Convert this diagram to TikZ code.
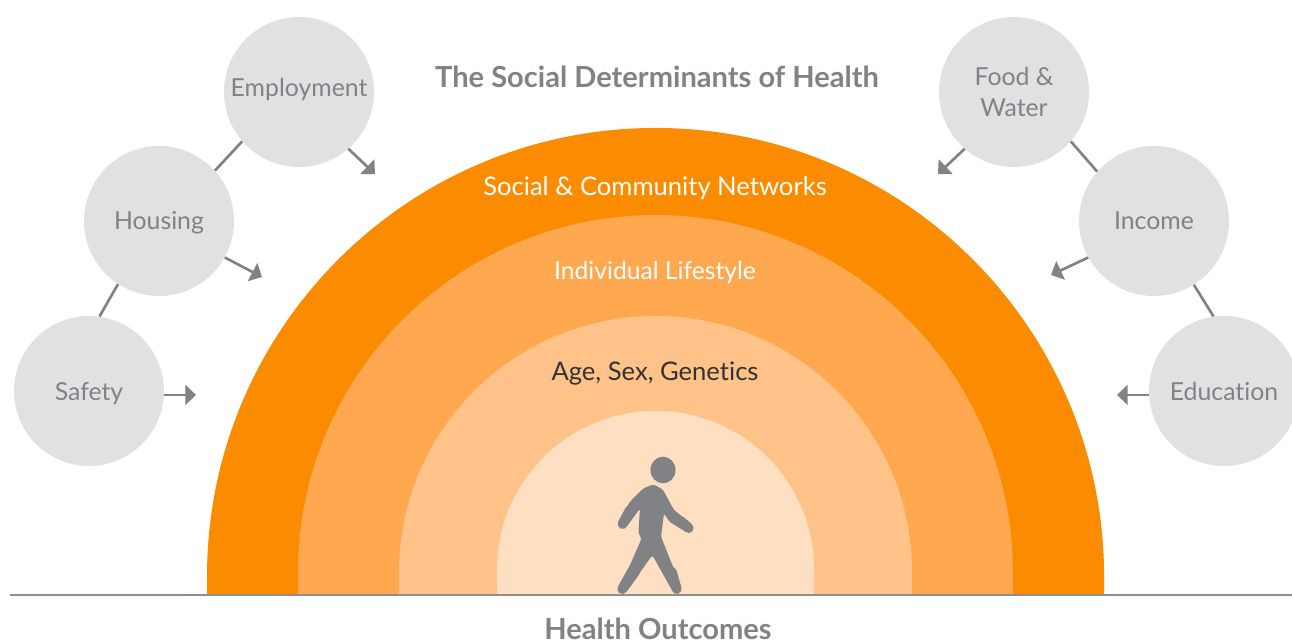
\documentclass[tikz,border=0pt]{standalone}
\usepackage{fontspec}
\setmainfont[Ligatures=NoCommon]{Lato}
\usetikzlibrary{arrows.meta}
\definecolor{ring1}{HTML}{FB8B00}
\definecolor{ring2}{HTML}{FFA850}
\definecolor{ring3}{HTML}{FFC288}
\definecolor{ring4}{HTML}{FFDFC2}
\definecolor{circlegray}{HTML}{E0E1E3}
\definecolor{textgray}{HTML}{808285}
\begin{document}
\begin{tikzpicture}[x=0.75pt,y=0.75pt]

\tikzstyle{factor}=[circle, fill=circlegray, text=textgray, minimum size=112.5pt, inner sep=0pt, align=center, font=\fontsize{18.6}{23.3}\selectfont]
\tikzstyle{oneline}=[text height=18pt, text depth=4.5pt]
\tikzstyle{link}=[draw=textgray, line width=2pt]
\tikzstyle{arrow}=[-{Triangle[length=8pt,width=15pt]},draw=textgray,line width=2pt]
\tikzstyle{ringlabel}=[font=\fontsize{19.2}{23}\selectfont]
\tikzstyle{heading}=[text=textgray, font=\fontsize{21.8}{26}\selectfont\bfseries]
\tikzstyle{limb}=[draw=textgray, line width=7.5pt, line cap=round]

\useasboundingbox (0,0) rectangle (1292,640);

\fill [ring1] (207,45) -- (207,63.5) arc [start angle=180, end angle=0, radius=336.4pt] -- (1104,45) -- cycle;
\fill [ring2] (298,45) -- (298,67.5) arc [start angle=180, end angle=0, radius=268.1pt] -- (1013,45) -- cycle;
\fill [ring3] (399,45) -- (399,67.5) arc [start angle=180, end angle=0, radius=192.4pt] -- (912,45) -- cycle;
\fill [ring4] (497,45) -- (497,70.5) arc [start angle=180, end angle=0, radius=118.9pt] -- (814,45) -- cycle;

\coordinate (groundL) at (10,45);
\coordinate (groundR) at (1292,45);
\draw [draw=textgray!90!white, line width=2.2pt] (groundL) -- (groundR);

\node (social) [ringlabel, text=white] at (655,452) {Social \& Community Networks};
\node (lifestyle) [ringlabel, text=white, font=\fontsize{18.5}{23}\selectfont] at (655,367) {Individual Lifestyle};
\node (age) [ringlabel, text=black!80] at (655,267) {Age, Sex, Genetics};

\node (title) [heading] at (657,563) {The Social Determinants of Health};
\node (outcomes) [heading] at (658,11) {Health Outcomes};

\node (employment) [factor, text height=12pt, text depth=4.5pt] at (299,548) {Employment};
\node (housing) [factor, oneline] at (159,419) {Housing};
\node (safety) [factor, oneline] at (89,249) {Safety};
\node (food) [factor] at (1014,548) {Food \&\\Water};
\node (income) [factor, oneline] at (1154,419) {Income};
\node (education) [factor, oneline] at (1224,249) {Education};

\draw [link] (safety.82) -- (housing.237);
\draw [link] (housing.42) -- (employment.221);
\draw [link] (food.-41) -- (income.139);
\draw [link] (income.-58) -- (education.98);

\coordinate (tipE) at (375,466);
\coordinate (tipH) at (262,363);
\coordinate (tipS) at (196,244);
\coordinate (tipF) at (938,466);
\coordinate (tipI) at (1051,365);
\coordinate (tipD) at (1117,244);

\draw [arrow] (employment.-49) -- (tipE);
\draw [arrow] (housing.-29) -- (tipH);
\draw [arrow] (safety.-3.8) -- (tipS |- safety.-3.8);
\draw [arrow] (food.229) -- (tipF);
\draw [arrow] (income.209) -- (tipI);
\draw [arrow] (education.183.8) -- (tipD |- education.183.8);

\begin{scope}[shift={(580,210)}, x=0.25pt, y=-0.25pt]
\fill [textgray] (249,120) ellipse [x radius=9.4pt, y radius=10pt];
\fill [textgray, rounded corners=2pt] (150,215) -- (190,175) -- (220,163) -- (248,178) -- (282,240) -- (336,283) -- (316,305) -- (268,275) -- (252,250) -- (243,320) -- (304,473) -- (276,481) -- (217,375) -- (139,486) -- (115,468) -- (150,405) -- (185,325) -- (175,310) -- (180,235) -- (141,289) -- (115,275) -- cycle;
\draw [limb] (150,240) -- (128,282);
\draw [limb] (300,272) -- (326,294);
\draw [limb] (165,425) -- (127,477);
\draw [limb] (275,425) -- (290,477);
\end{scope}

\end{tikzpicture}
\end{document}
